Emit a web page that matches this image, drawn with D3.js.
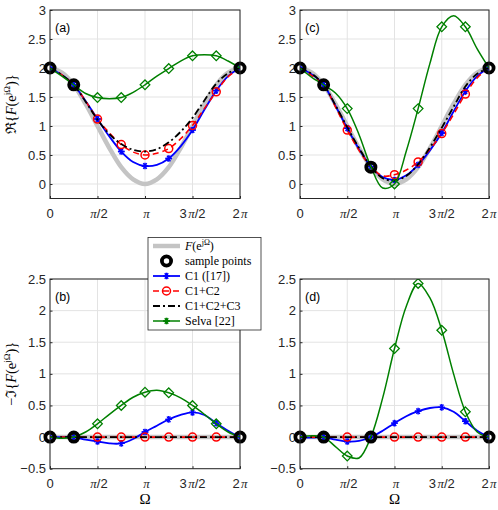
<!DOCTYPE html>
<html>
<head>
<meta charset="utf-8">
<script src="https://cdn.jsdelivr.net/npm/d3@7"></script>
<style>
body { margin: 0; background: #fff; }
svg text { font-family: "Liberation Sans", Arial, sans-serif; }
.serif { font-family: "Liberation Serif", "DejaVu Serif", serif; }
</style>
</head>
<body>
<div id="chart"></div>
<script>
// frequency grid, in units of pi
var omega = [0, 0.125, 0.25, 0.375, 0.5, 0.625, 0.75, 0.875, 1, 1.125, 1.25, 1.375, 1.5, 1.625, 1.75, 1.875, 2];
var xTicks = [0, 0.5, 1, 1.5, 2];
var xTickLabels = ["0", "π/2", "π", "3π/2", "2π"];
var yTicksTop = [0, 0.5, 1, 1.5, 2, 2.5, 3];
var yTicksBottom = [-0.5, 0, 0.5, 1, 1.5, 2, 2.5];

// reference F(e^jΩ)
var refRe = [2, 1.92, 1.71, 1.38, 1, 0.62, 0.29, 0.08, 0, 0.08, 0.29, 0.62, 1, 1.38, 1.71, 1.92, 2];
var refIm = [0, 0, 0, 0, 0, 0, 0, 0, 0, 0, 0, 0, 0, 0, 0, 0, 0];
var zeros = [0, 0, 0, 0, 0, 0, 0, 0, 0, 0, 0, 0, 0, 0, 0, 0, 0];

// panel (a)
var aC1 = [2, 1.88, 1.71, 1.43, 1.12, 0.82, 0.56, 0.38, 0.31, 0.33, 0.44, 0.65, 0.93, 1.28, 1.61, 1.86, 2];
var aC12 = [2, 1.88, 1.71, 1.43, 1.12, 0.88, 0.68, 0.55, 0.5, 0.53, 0.61, 0.78, 1.01, 1.3, 1.59, 1.85, 2];
var aC123 = [2, 1.88, 1.71, 1.42, 1.11, 0.86, 0.69, 0.59, 0.56, 0.6, 0.72, 0.9, 1.14, 1.44, 1.73, 1.91, 2];
var aSelva = [2, 1.86, 1.71, 1.56, 1.49, 1.47, 1.49, 1.58, 1.71, 1.86, 1.99, 2.12, 2.21, 2.23, 2.21, 2.12, 2];
var aSampleX = [0, 0.25, 2];
var aSampleY = [2, 1.71, 2];

// panel (c)
var cC1 = [2, 1.89, 1.71, 1.35, 0.96, 0.6, 0.3, 0.12, 0.07, 0.15, 0.33, 0.58, 0.88, 1.25, 1.6, 1.86, 2];
var cC12 = [2, 1.87, 1.71, 1.33, 0.93, 0.58, 0.3, 0.14, 0.16, 0.24, 0.38, 0.6, 0.87, 1.2, 1.55, 1.83, 2];
var cC123 = [2, 1.9, 1.71, 1.36, 0.98, 0.62, 0.3, 0.1, 0.06, 0.14, 0.34, 0.63, 0.97, 1.33, 1.68, 1.9, 2];
var cSelva = [2, 1.84, 1.71, 1.57, 1.3, 0.85, 0.3, -0.07, 0, 0.57, 1.3, 2.08, 2.71, 2.9, 2.71, 2.33, 2];
var cSampleX = [0, 0.25, 0.75, 2];
var cSampleY = [2, 1.71, 0.29, 2];

// panel (b)
var bC1 = [0, 0, 0, -0.04, -0.07, -0.1, -0.1, -0.03, 0.08, 0.18, 0.28, 0.35, 0.39, 0.35, 0.22, 0.1, 0];
var bSelva = [0, -0.02, 0, 0.08, 0.21, 0.36, 0.5, 0.63, 0.71, 0.74, 0.7, 0.62, 0.5, 0.36, 0.21, 0.08, 0];
var bSampleX = [0, 0.25, 2];
var bSampleY = [0, 0, 0];

// panel (d)
var dC1 = [0, -0.01, 0, -0.04, -0.07, -0.06, 0, 0.1, 0.22, 0.33, 0.41, 0.46, 0.47, 0.4, 0.25, 0.1, 0];
var dSelva = [0, 0.02, 0, -0.15, -0.3, -0.33, 0, 0.62, 1.4, 2.07, 2.43, 2.2, 1.69, 1.0, 0.4, 0.08, 0];
var dSampleX = [0, 0.25, 0.75, 2];
var dSampleY = [0, 0, 0, 0];

var blue = "#0000ff", red = "#ff0000", green = "#008000", grey = "#c4c4c4";

var svg = d3.select("#chart").append("svg")
  .attr("width", 498)
  .attr("height", 510);

var panels = [
  {id: "(a)", left: 50, right: 240, top: 10, bottom: 198.5, yDom: [-0.25, 3], yTicks: yTicksTop,
   ref: refRe, c1: aC1, c12: aC12, c123: aC123, selva: aSelva, sx: aSampleX, sy: aSampleY, ylabel: "re"},
  {id: "(c)", left: 300, right: 489, top: 10, bottom: 198.5, yDom: [-0.25, 3], yTicks: yTicksTop,
   ref: refRe, c1: cC1, c12: cC12, c123: cC123, selva: cSelva, sx: cSampleX, sy: cSampleY},
  {id: "(b)", left: 50, right: 240, top: 279, bottom: 468.7, yDom: [-0.5, 2.5], yTicks: yTicksBottom,
   ref: refIm, c1: bC1, c12: zeros, c123: zeros, selva: bSelva, sx: bSampleX, sy: bSampleY, ylabel: "im", xlabel: true},
  {id: "(d)", left: 300, right: 489, top: 279, bottom: 468.7, yDom: [-0.5, 2.5], yTicks: yTicksBottom,
   ref: refIm, c1: dC1, c12: zeros, c123: zeros, selva: dSelva, sx: dSampleX, sy: dSampleY, xlabel: true}
];

function asterisk(g, x, y, r, col) {
  var a = g.append("g").attr("transform", "translate(" + x + "," + y + ")")
    .attr("stroke", col).attr("stroke-width", 1.4);
  [0, 60, 120].forEach(function(ang) {
    var t = ang * Math.PI / 180;
    a.append("line").attr("x1", -r * Math.cos(t)).attr("y1", -r * Math.sin(t))
      .attr("x2", r * Math.cos(t)).attr("y2", r * Math.sin(t));
  });
  a.append("line").attr("x1", -r).attr("x2", r).attr("y1", 0).attr("y2", 0);
  a.append("line").attr("x1", 0).attr("x2", 0).attr("y1", -r).attr("y2", r);
}

function diamond(g, x, y, r, col) {
  g.append("path")
    .attr("d", "M" + x + "," + (y - r) + "L" + (x + r) + "," + y + "L" + x + "," + (y + r) + "L" + (x - r) + "," + y + "Z")
    .attr("fill", "none").attr("stroke", col).attr("stroke-width", 1.3);
}

function ring(g, x, y) {
  g.append("circle").attr("cx", x).attr("cy", y).attr("r", 4.6)
    .attr("fill", "none").attr("stroke", "#000").attr("stroke-width", 3.8);
}

panels.forEach(function(p) {
  var x = d3.scaleLinear().domain([0, 2]).range([p.left, p.right]);
  var y = d3.scaleLinear().domain(p.yDom).range([p.bottom, p.top]);
  var g = svg.append("g");

  // grid
  g.selectAll(".gx").data(xTicks).enter().append("line")
    .attr("x1", function(d) { return x(d); }).attr("x2", function(d) { return x(d); })
    .attr("y1", p.top).attr("y2", p.bottom)
    .attr("stroke", "#e3e3e3").attr("stroke-width", 1);
  g.selectAll(".gy").data(p.yTicks).enter().append("line")
    .attr("y1", function(d) { return y(d); }).attr("y2", function(d) { return y(d); })
    .attr("x1", p.left).attr("x2", p.right)
    .attr("stroke", "#e3e3e3").attr("stroke-width", 1);

  // axes (ticks inside)
  var xAxis = d3.axisBottom(x).tickValues(xTicks).tickSize(-2.5).tickFormat("");
  var yAxis = d3.axisLeft(y).tickValues(p.yTicks).tickSize(-2.5).tickFormat("");
  g.append("g").attr("transform", "translate(0," + p.bottom + ")").call(xAxis)
    .call(function(s) { s.select(".domain").remove(); });
  g.append("g").attr("transform", "translate(" + p.left + ",0)").call(yAxis)
    .call(function(s) { s.select(".domain").remove(); });
  g.selectAll(".tick line").attr("stroke", "#262626");

  // tick labels
  g.selectAll(".xl").data(xTicks).enter().append("text")
    .attr("x", function(d) { return x(d); })
    .attr("y", p.bottom + 19)
    .attr("text-anchor", "middle")
    .attr("font-size", "13px")
    .attr("fill", "#262626")
    .each(function(d, i) {
      var lab = xTickLabels[i];
      var t = d3.select(this);
      lab.split("").forEach(function(ch) {
        var sp = t.append("tspan").text(ch);
        if (ch === "π") sp.attr("class", "serif").attr("font-style", "italic").attr("dx", 1.5);
      });
    });
  g.selectAll(".yl").data(p.yTicks).enter().append("text")
    .attr("x", p.left - 4)
    .attr("y", function(d) { return y(d) + 4.5; })
    .attr("text-anchor", "end")
    .attr("font-size", "13px")
    .attr("fill", "#262626")
    .text(function(d) { return d3.format("")(d); });

  var line = d3.line()
    .x(function(d, i) { return x(omega[i]); })
    .y(function(d) { return y(d); })
    .curve(d3.curveCatmullRom.alpha(0.5));

  var clip = "clip" + p.id.replace(/[()]/g, "");
  svg.append("clipPath").attr("id", clip).append("rect")
    .attr("x", p.left).attr("y", p.top).attr("width", p.right - p.left).attr("height", p.bottom - p.top);
  var plot = g.append("g").attr("clip-path", "url(#" + clip + ")");

  plot.append("path").attr("d", line(p.ref)).attr("fill", "none")
    .attr("stroke", grey).attr("stroke-width", 4.5);
  plot.append("path").attr("d", line(p.c1)).attr("fill", "none")
    .attr("stroke", blue).attr("stroke-width", 1.8);
  plot.append("path").attr("d", line(p.c12)).attr("fill", "none")
    .attr("stroke", red).attr("stroke-width", 1.6).attr("stroke-dasharray", "6,4");

  // markers every other grid point
  omega.forEach(function(w, i) {
    if (i % 2) return;
    asterisk(plot, x(w), y(p.c1[i]), 3.3, blue);
  });
  omega.forEach(function(w, i) {
    if (i % 2) return;
    plot.append("circle").attr("cx", x(w)).attr("cy", y(p.c12[i])).attr("r", 4)
      .attr("fill", "none").attr("stroke", red).attr("stroke-width", 1.5);
  });
  plot.append("path").attr("d", line(p.c123)).attr("fill", "none")
    .attr("stroke", "#000").attr("stroke-width", 1.8).attr("stroke-dasharray", "7,3,2,3");

  plot.append("path").attr("d", line(p.selva)).attr("fill", "none")
    .attr("stroke", green).attr("stroke-width", 1.5);
  omega.forEach(function(w, i) {
    if (i % 2) return;
    diamond(plot, x(w), y(p.selva[i]), 4.8, green);
  });

  p.sx.forEach(function(w, i) { ring(g, x(w), y(p.sy[i])); });

  // box
  g.append("rect").attr("x", p.left).attr("y", p.top)
    .attr("width", p.right - p.left).attr("height", p.bottom - p.top)
    .attr("fill", "none").attr("stroke", "#262626").attr("stroke-width", 1);

  g.append("text").attr("x", p.left + 5).attr("y", p.top + 22)
    .attr("font-size", "12.5px").text(p.id);

  if (p.xlabel) {
    g.append("text").attr("class", "serif")
      .attr("x", (p.left + p.right) / 2).attr("y", 504)
      .attr("text-anchor", "middle").attr("font-size", "15px").text("Ω");
  }
  if (p.ylabel) {
    var cy = (p.top + p.bottom) / 2;
    var t = g.append("text").attr("class", "serif")
      .attr("transform", "translate(16," + cy + ") rotate(-90)")
      .attr("text-anchor", "middle").attr("font-size", "14.5px");
    t.append("tspan").text(p.ylabel === "re" ? "ℜ{" : "−ℑ{");
    t.append("tspan").attr("font-style", "italic").text("F");
    t.append("tspan").text("(e");
    t.append("tspan").attr("font-size", "9px").attr("dy", -6).text("jΩ");
    t.append("tspan").attr("dy", 6).text(")}");
  }
});

// legend
var lg = svg.append("g");
lg.append("rect").attr("x", 148).attr("y", 237.5).attr("width", 113).attr("height", 92.5)
  .attr("fill", "#fff").attr("stroke", "#262626").attr("stroke-width", 0.8);
var legendNames = ["F", "sample points", "C1 ([17])", "C1+C2", "C1+C2+C3", "Selva [22]"];
legendNames.forEach(function(name, i) {
  var ly = 246 + i * 15;
  var x1 = 153, x2 = 180, xm = 166.5;
  if (i === 0) lg.append("line").attr("x1", x1).attr("x2", x2).attr("y1", ly).attr("y2", ly)
    .attr("stroke", grey).attr("stroke-width", 4.5);
  if (i === 1) ring(lg, xm, ly);
  if (i === 2) {
    lg.append("line").attr("x1", x1).attr("x2", x2).attr("y1", ly).attr("y2", ly)
      .attr("stroke", blue).attr("stroke-width", 1.8);
    asterisk(lg, xm, ly, 3.3, blue);
  }
  if (i === 3) {
    lg.append("line").attr("x1", x1).attr("x2", x2).attr("y1", ly).attr("y2", ly)
      .attr("stroke", red).attr("stroke-width", 1.6).attr("stroke-dasharray", "6,4");
    lg.append("circle").attr("cx", xm).attr("cy", ly).attr("r", 4)
      .attr("fill", "none").attr("stroke", red).attr("stroke-width", 1.5);
  }
  if (i === 4) lg.append("line").attr("x1", x1).attr("x2", x2).attr("y1", ly).attr("y2", ly)
    .attr("stroke", "#000").attr("stroke-width", 1.8).attr("stroke-dasharray", "7,3,2,3");
  if (i === 5) {
    lg.append("line").attr("x1", x1).attr("x2", x2).attr("y1", ly).attr("y2", ly)
      .attr("stroke", green).attr("stroke-width", 1.5);
    asterisk(lg, xm, ly, 3.3, green);
  }
  var t = lg.append("text").attr("class", "serif").attr("x", 185).attr("y", ly + 4)
    .attr("font-size", "12px");
  if (i === 0) {
    t.append("tspan").attr("font-style", "italic").text("F");
    t.append("tspan").text("(e");
    t.append("tspan").attr("font-size", "8px").attr("dy", -5).text("jΩ");
    t.append("tspan").attr("dy", 5).text(")");
  } else {
    t.text(name);
  }
});
</script>
</body>
</html>
